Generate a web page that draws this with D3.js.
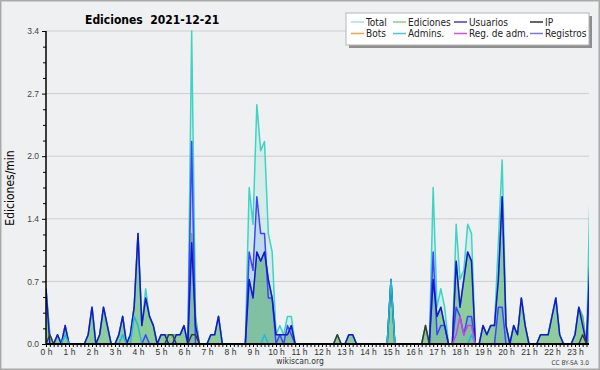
<!DOCTYPE html>
<html>
<head>
<meta charset="utf-8">
<script src="https://cdn.jsdelivr.net/npm/d3@7"></script>
<style>
  body { margin: 0; background: #fff; }
  svg { display: block; font-family: "DejaVu Sans Condensed", "DejaVu Sans", sans-serif; }
</style>
</head>
<body>
<svg id="chart" width="600" height="370"></svg>
<script>
// one value per 10 minutes (edits/min), 6 values per hour row
const hourLabels = d3.range(24).map(h => h + " h");
const yTickLabels = ["0.0", "0.7", "1.4", "2.0", "2.7", "3.4"];
const yMax = 3.4;

const total = [
  .6, .1, 0, .1, 0, .2,   0, 0, 0, 0, 0, .1,   .4, 0, .1, .4, .2, 0,   0, .1, .3, 0, .1, .4,
  1.2, .2, .6, .3, .2, 0,   .1, .1, .1, .1, .1, .1,   .2, 0, 3.4, .3, 0, 0,   0, .1, .1, .3, 0, 0,
  0, 0, 0, 0, 0, 1.7,   1.3, 2.6, 2.1, 2.2, 1.2, 1.0,   .1, .2, .1, .3, .3, 0,   0, 0, 0, 0, 0, 0,
  0, 0, 0, 0, .1, 0,   0, .1, .1, 0, 0, 0,   0, 0, 0, 0, 0, 0,   .7, 0, 0, 0, 0, 0,
  0, 0, 0, .2, 0, 1.7,   .4, .6, .4, 0, 0, 1.3,   .7, .8, 1.3, 1.2, 0, 0,   .2, .1, .2, .2, 1.1, 2.0,
  .2, 0, .2, .1, .5, .2,   0, 0, 0, .1, .1, .1,   .3, .5, .1, 0, 0, 0,   .1, .4, .3, 0, 1.8, 1.4
];
const ediciones = [
  .6, .1, 0, .1, 0, .2,   0, 0, 0, 0, 0, .1,   .4, 0, .1, .4, .2, 0,   0, .1, .3, 0, .1, .4,
  1.2, .2, .5, .3, .2, 0,   .1, .1, .1, .1, .1, .1,   .2, 0, 1.2, .3, 0, 0,   0, .1, .1, .3, 0, 0,
  0, 0, 0, 0, 0, .7,   .5, 1.0, .9, 1.0, .7, .5,   .1, .1, .1, .1, .2, 0,   0, 0, 0, 0, 0, 0,
  0, 0, 0, 0, .1, 0,   0, .1, .1, 0, 0, 0,   0, 0, 0, 0, 0, 0,   .7, 0, 0, 0, 0, 0,
  0, 0, 0, .2, 0, .7,   .3, .4, .2, 0, 0, .9,   .4, .7, 1.0, .9, 0, 0,   .2, .1, .2, .2, .7, 1.6,
  .2, 0, .2, .1, .5, .2,   0, 0, 0, .1, .1, .1,   .3, .5, .1, 0, 0, 0,   .1, .4, .3, 0, 1.0, .8
];
const usuarios = [
  .6, 0, 0, .1, 0, .2,   0, 0, 0, 0, 0, .1,   .4, 0, .1, .4, .2, 0,   0, .1, .3, 0, .1, .4,
  1.2, .2, .5, .3, .2, 0,   .1, .1, 0, 0, .1, .1,   .2, 0, 1.1, .2, 0, 0,   0, .1, .1, .3, 0, 0,
  0, 0, 0, 0, 0, .7,   .5, 1.0, .9, 1.0, .7, .5,   .1, .1, .1, .1, .2, 0,   0, 0, 0, 0, 0, 0,
  0, 0, 0, 0, 0, 0,   0, .1, .1, 0, 0, 0,   0, 0, 0, 0, 0, 0,   .7, 0, 0, 0, 0, 0,
  0, 0, 0, 0, 0, .7,   .3, .4, .2, 0, 0, .9,   .4, .7, 1.0, .9, 0, 0,   .2, .1, .2, .2, .7, 1.6,
  .2, 0, .2, .1, .5, .2,   0, 0, 0, .1, .1, .1,   .3, .5, .1, 0, 0, 0,   .1, .4, .2, 0, 1.0, .8
];
const ip = [
  0, .1, 0, 0, 0, 0,   0, 0, 0, 0, 0, 0,   0, 0, 0, 0, 0, 0,   0, 0, 0, 0, 0, 0,
  0, 0, 0, 0, 0, 0,   0, 0, .1, .1, 0, 0,   0, 0, .1, .1, 0, 0,   0, 0, 0, 0, 0, 0,
  0, 0, 0, 0, 0, 0,   0, 0, 0, 0, 0, 0,   0, 0, 0, 0, 0, 0,   0, 0, 0, 0, 0, 0,
  0, 0, 0, 0, .1, 0,   0, 0, 0, 0, 0, 0,   0, 0, 0, 0, 0, 0,   0, 0, 0, 0, 0, 0,
  0, 0, 0, .2, 0, 0,   0, 0, 0, 0, 0, 0,   0, 0, 0, 0, 0, 0,   0, 0, 0, 0, 0, 0,
  0, 0, 0, 0, 0, 0,   0, 0, 0, 0, 0, 0,   0, 0, 0, 0, 0, 0,   0, 0, .1, 0, 0, 0
];
const bots = d3.range(144).map(() => 0);
const admins = [
  0, 0, 0, 0, 0, .1,   0, 0, 0, 0, 0, 0,   0, 0, 0, 0, 0, 0,   0, 0, .1, 0, 0, .3,
  .2, 0, 0, 0, 0, 0,   0, 0, 0, 0, 0, 0,   0, 0, 0, 0, 0, 0,   0, 0, 0, 0, 0, 0,
  0, 0, 0, 0, 0, 0,   0, 0, 0, .1, 0, 0,   0, 0, 0, 0, 0, 0,   0, 0, 0, 0, 0, 0,
  0, 0, 0, 0, 0, 0,   0, 0, 0, 0, 0, 0,   0, 0, 0, 0, 0, 0,   .7, 0, 0, 0, 0, 0,
  0, 0, 0, 0, 0, 0,   0, 0, 0, 0, 0, 0,   0, 0, 0, .1, 0, 0,   0, 0, 0, 0, 0, 0,
  0, 0, 0, 0, 0, 0,   0, 0, 0, 0, 0, 0,   0, 0, 0, 0, 0, 0,   0, 0, 0, 0, 0, 0
];
const regAdm = [
  0, 0, 0, 0, 0, 0,   0, 0, 0, 0, 0, 0,   0, 0, 0, 0, 0, 0,   0, 0, 0, 0, 0, 0,
  0, 0, 0, 0, 0, 0,   0, 0, 0, 0, 0, 0,   0, 0, 0, 0, 0, 0,   0, 0, 0, 0, 0, 0,
  0, 0, 0, 0, 0, 0,   0, 0, 0, 0, 0, 0,   0, 0, 0, 0, 0, 0,   0, 0, 0, 0, 0, 0,
  0, 0, 0, 0, 0, 0,   0, 0, 0, 0, 0, 0,   0, 0, 0, 0, 0, 0,   0, 0, 0, 0, 0, 0,
  0, 0, 0, 0, 0, 0,   0, 0, 0, 0, 0, .1,   .3, .1, .2, .2, 0, 0,   0, 0, 0, 0, 0, 0,
  0, 0, 0, 0, 0, 0,   0, 0, 0, 0, 0, 0,   0, 0, 0, 0, 0, 0,   0, 0, 0, 0, 0, 0
];
const registros = [
  0, 0, 0, 0, 0, 0,   0, 0, 0, 0, 0, 0,   0, 0, 0, 0, 0, 0,   0, 0, 0, 0, 0, 0,
  0, 0, .1, 0, 0, 0,   0, 0, 0, 0, 0, 0,   0, 0, 2.2, 0, 0, 0,   0, 0, 0, 0, 0, 0,
  0, 0, 0, 0, 0, 1.0,   .8, 1.6, 1.2, 1.2, .5, .5,   0, .1, 0, .2, .1, 0,   0, 0, 0, 0, 0, 0,
  0, 0, 0, 0, 0, 0,   0, 0, 0, 0, 0, 0,   0, 0, 0, 0, 0, 0,   0, 0, 0, 0, 0, 0,
  0, 0, 0, 0, 0, 1.0,   .1, .2, .2, 0, 0, .4,   .3, .1, .3, .3, 0, 0,   0, 0, 0, 0, .4, .4,
  0, 0, 0, 0, 0, 0,   0, 0, 0, 0, 0, 0,   0, 0, 0, 0, 0, 0,   0, 0, 0, 0, .8, .6
];

const legendNames = ["Total", "Ediciones", "Usuarios", "IP", "Bots", "Admins.", "Reg. de adm.", "Registros"];
const legendColors = ["#a4e4e2", "#86d086", "#3c3cd4", "#333333", "#f2a444", "#4cc4d6", "#d64ee0", "#7878ee"];

const svg = d3.select("#chart");

// background + frame
svg.append("rect")
  .attr("x", 0.75).attr("y", 0.75)
  .attr("width", 598.5).attr("height", 368.5)
  .attr("fill", "#eff0f1")
  .attr("stroke", "#a9a9a9")
  .attr("stroke-width", 1.5);

// scales: index in 10-minute steps, 23px per hour
const x = d3.scaleLinear().domain([0, 144]).range([46, 598]);
const y = d3.scaleLinear().domain([0, yMax]).range([344, 31]);
const plotRight = 589;

// clip
svg.append("clipPath").attr("id", "plotclip")
  .append("rect").attr("x", 46).attr("y", 0).attr("width", plotRight - 46).attr("height", 345);

// grid lines
const majorVals = yTickLabels.map((d, i) => i * yMax / 5);
svg.append("g").selectAll("line")
  .data(majorVals.slice(1))
  .enter().append("line")
  .attr("x1", 46).attr("x2", plotRight)
  .attr("y1", d => y(d)).attr("y2", d => y(d))
  .attr("stroke", "#cdcdcd").attr("stroke-width", 1);

const plot = svg.append("g").attr("clip-path", "url(#plotclip)");

const area = d3.area().x((d, i) => x(i)).y0(y(0)).y1(d => y(d));
const line = d3.line().x((d, i) => x(i)).y(d => y(d));

// areas
plot.append("path").datum(total).attr("d", area).attr("fill", "rgba(64,214,200,0.15)");
plot.append("path").datum(ediciones).attr("d", area).attr("fill", "rgba(56,168,56,0.46)");
plot.append("path").datum(registros).attr("d", area).attr("fill", "rgba(70,125,215,0.16)");

// lines
const lines = [
  { data: total, color: "#3fd3c6" },
  { data: ediciones, color: "#62b862" },
  { data: registros, color: "#3c44ff" },
  { data: usuarios, color: "#1414dc" },
  { data: ip, color: "#3a3a3a" },
  { data: admins, color: "#22b8da" },
  { data: regAdm, color: "#cc44dd" },
  { data: bots, color: "#f0a030" }
];
lines.forEach(s => {
  plot.append("path").datum(s.data).attr("d", line)
    .attr("fill", "none")
    .attr("stroke", s.color)
    .attr("stroke-width", 1.5)
    .attr("stroke-linejoin", "round");
});

// x axis
const xTicks = d3.range(0, 142);
const xAxisGroup = svg.append("g").attr("transform", "translate(0, 344)");
xAxisGroup.call(
  d3.axisBottom(x)
    .tickValues(xTicks)
    .tickSize(3)
    .tickPadding(2)
    .tickFormat(d => d % 6 === 0 ? hourLabels[d / 6] : "")
);
xAxisGroup.select(".domain").remove();
xAxisGroup.selectAll("line").attr("stroke", "#000").attr("stroke-width", 1);
xAxisGroup.selectAll("text").attr("font-size", 8.5).attr("fill", "#333").attr("font-family", null);
xAxisGroup.append("line")
  .attr("x1", 46).attr("x2", plotRight).attr("y1", 0).attr("y2", 0)
  .attr("stroke", "#000").attr("stroke-width", 2);

// y axis
const yAxisGroup = svg.append("g").attr("transform", "translate(46, 0)");
yAxisGroup.call(
  d3.axisLeft(y)
    .tickValues(majorVals)
    .tickSize(4)
    .tickPadding(3)
    .tickFormat((d, i) => yTickLabels[i])
);
const minorVals = d3.range(0, 21).map(i => i * yMax / 20).filter((d, i) => i % 4 !== 0);
const yMinor = svg.append("g").attr("transform", "translate(46, 0)");
yMinor.call(d3.axisLeft(y).tickValues(minorVals).tickSize(3).tickFormat(""));
yMinor.select(".domain").remove();
yAxisGroup.select(".domain").attr("stroke-width", 1.5).attr("d", "M0,31V344");
yAxisGroup.selectAll("text").attr("font-size", 8.5).attr("fill", "#444").attr("font-family", null);

// title
svg.append("text")
  .attr("x", 85).attr("y", 24)
  .attr("font-size", 12).attr("font-weight", "bold")
  .style("white-space", "pre")
  .text("Ediciones  2021-12-21");

// y title
svg.append("text")
  .attr("transform", "translate(13.5, 188) rotate(-90)")
  .attr("text-anchor", "middle")
  .attr("font-size", 12)
  .text("Ediciones/min");

// footer
svg.append("text").attr("x", 300).attr("y", 364)
  .attr("text-anchor", "middle").attr("font-size", 8.5).attr("fill", "#333")
  .text("wikiscan.org");
svg.append("text").attr("x", 589).attr("y", 365)
  .attr("text-anchor", "end").attr("font-size", 6.5).attr("fill", "#444")
  .text("CC BY-SA 3.0");

// legend
const legend = svg.append("g");
legend.append("rect").attr("x", 349).attr("y", 16).attr("width", 243).attr("height", 32).attr("fill", "#8e8e8e");
legend.append("rect").attr("x", 346).attr("y", 13).attr("width", 243).attr("height", 32)
  .attr("fill", "#fff").attr("stroke", "#b5b5b5").attr("stroke-width", 1);
const colX = [366, 408, 469, 545];
const rowY = [22, 33.5];
legendNames.forEach((name, i) => {
  const cx = colX[i % 4];
  const cy = rowY[Math.floor(i / 4)];
  legend.append("line")
    .attr("x1", cx - 15).attr("x2", cx - 2)
    .attr("y1", cy).attr("y2", cy)
    .attr("stroke", legendColors[i]).attr("stroke-width", 1.5);
  legend.append("text")
    .attr("x", cx).attr("y", cy).attr("dy", "0.35em")
    .attr("font-size", 10).attr("fill", "#222")
    .text(name);
});
</script>
</body>
</html>
